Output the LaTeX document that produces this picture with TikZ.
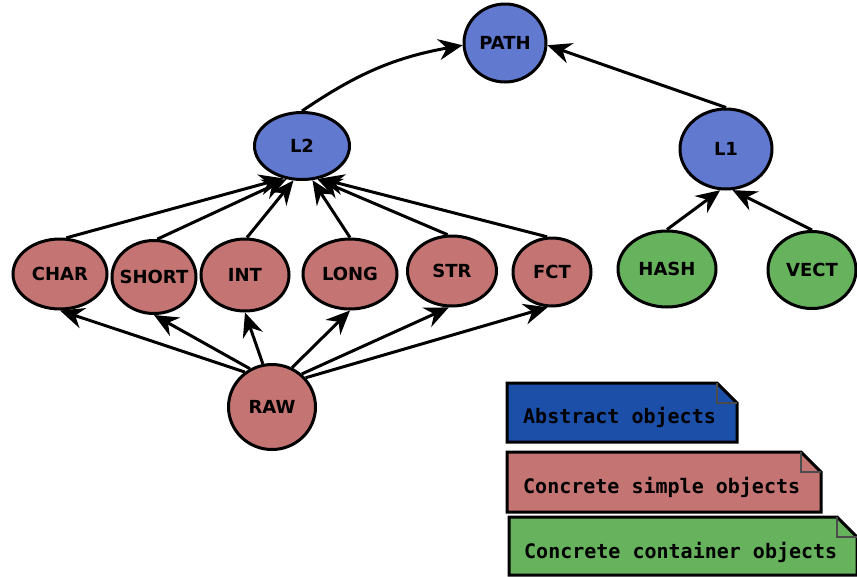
\documentclass[tikz,border=0pt]{standalone}
\usepackage{fontspec}
\setmainfont{DejaVu Sans}
\setmonofont{DejaVu Sans Mono}
\usetikzlibrary{shapes.geometric, arrows.meta}
\definecolor{absblue}{RGB}{98,121,208}
\definecolor{simplered}{RGB}{196,116,114}
\definecolor{contgreen}{RGB}{102,178,93}
\definecolor{legblue}{RGB}{27,79,168}
\tikzset{
  obj/.style={ellipse, draw=black, line width=3pt, inner sep=0pt,
    font=\fontsize{18}{18}\selectfont\bfseries},
  absobj/.style={obj, fill=absblue},
  simpleobj/.style={obj, fill=simplered},
  contobj/.style={obj, fill=contgreen},
  link/.style={line width=3pt, -{Stealth[length=24pt,width=21pt,inset=8pt]}},
  notetext/.style={anchor=base west, inner sep=0pt,
    font=\fontsize{20}{20}\selectfont\ttfamily\bfseries},
  notebox/.style={draw=black, line width=3pt, line join=miter},
  notefold/.style={draw=black!70, line width=2pt},
}
\begin{document}
\begin{tikzpicture}[x=1pt, y=-1pt]
\useasboundingbox (0,0) rectangle (857,576);

% nodes
\node[absobj, minimum width=82pt, minimum height=78pt] (PATH) at (505,43) {\makebox[0pt]{PATH}};
\node[absobj, minimum width=95pt, minimum height=67pt] (L2) at (302,146) {\makebox[0pt]{L2}};
\node[absobj, minimum width=92pt, minimum height=80pt] (L1) at (726,149) {\makebox[0pt]{L1}};

\node[simpleobj, minimum width=94pt, minimum height=70pt] (CHAR) at (60,274) {\makebox[0pt]{CHAR}};
\node[simpleobj, minimum width=84pt, minimum height=73pt] (SHORT) at (154,277) {\makebox[0pt]{SHORT}};
\node[simpleobj, minimum width=88pt, minimum height=72pt] (INT) at (245,275) {\makebox[0pt]{INT}};
\node[simpleobj, minimum width=94pt, minimum height=70pt] (LONG) at (350,274) {\makebox[0pt]{LONG}};
\node[simpleobj, minimum width=89pt, minimum height=70pt] (STR) at (452,271) {\makebox[0pt]{STR}};
\node[simpleobj, minimum width=78pt, minimum height=68pt] (FCT) at (552,272) {\makebox[0pt]{FCT}};
\node[simpleobj, minimum width=87pt, minimum height=85pt] (RAW) at (272,407) {\makebox[0pt]{RAW}};

\node[contobj, minimum width=98pt, minimum height=76pt] (HASH) at (667,269) {\makebox[0pt]{HASH}};
\node[contobj, minimum width=88pt, minimum height=77pt] (VECT) at (812,270) {\makebox[0pt]{VECT}};

% edges
\draw[link] (L2.north) to[bend left=12] (PATH.183);
\draw[link] (L1.north) -- (PATH.357);

\draw[link] (CHAR.80) -- (L2.240);
\draw[link] (SHORT.85) -- (L2.245);
\draw[link] (INT.87) -- (L2.256);
\draw[link] (LONG.90) -- (L2.287);
\draw[link] (STR.97) -- (L2.295);
\draw[link] (FCT.98) -- (L2.299);

\draw[link] (RAW.128) -- (CHAR.south);
\draw[link] (RAW.120) -- (SHORT.south);
\draw[link] (RAW.102) -- (INT.south);
\draw[link] (RAW.63) -- (LONG.south);
\draw[link] (RAW.48) -- (STR.265);
\draw[link] (RAW.41) -- (FCT.263);

\draw[link] (HASH.north) -- (L1.262);
\draw[link] (VECT.north) -- (L1.279);

% legend
\draw[notebox, fill=legblue] (507,383) -- (717,383) -- (737,403) -- (737,442) -- (507,442) -- cycle;
\draw[notefold] (717,383) -- (717,403) -- (737,403);
\node[notetext] (absnote) at (523,423) {Abstract objects};

\draw[notebox, fill=simplered] (507,452) -- (801,452) -- (821,472) -- (821,512) -- (507,512) -- cycle;
\draw[notefold] (801,452) -- (801,472) -- (821,472);
\node[notetext] (simplenote) at (523,493) {Concrete simple objects};

\draw[notebox, fill=contgreen] (509,517) -- (837,517) -- (857,537) -- (857,575) -- (509,575) -- cycle;
\draw[notefold] (837,517) -- (837,537) -- (857,537);
\node[notetext] (contnote) at (524,558) {Concrete container objects};
\end{tikzpicture}
\end{document}
